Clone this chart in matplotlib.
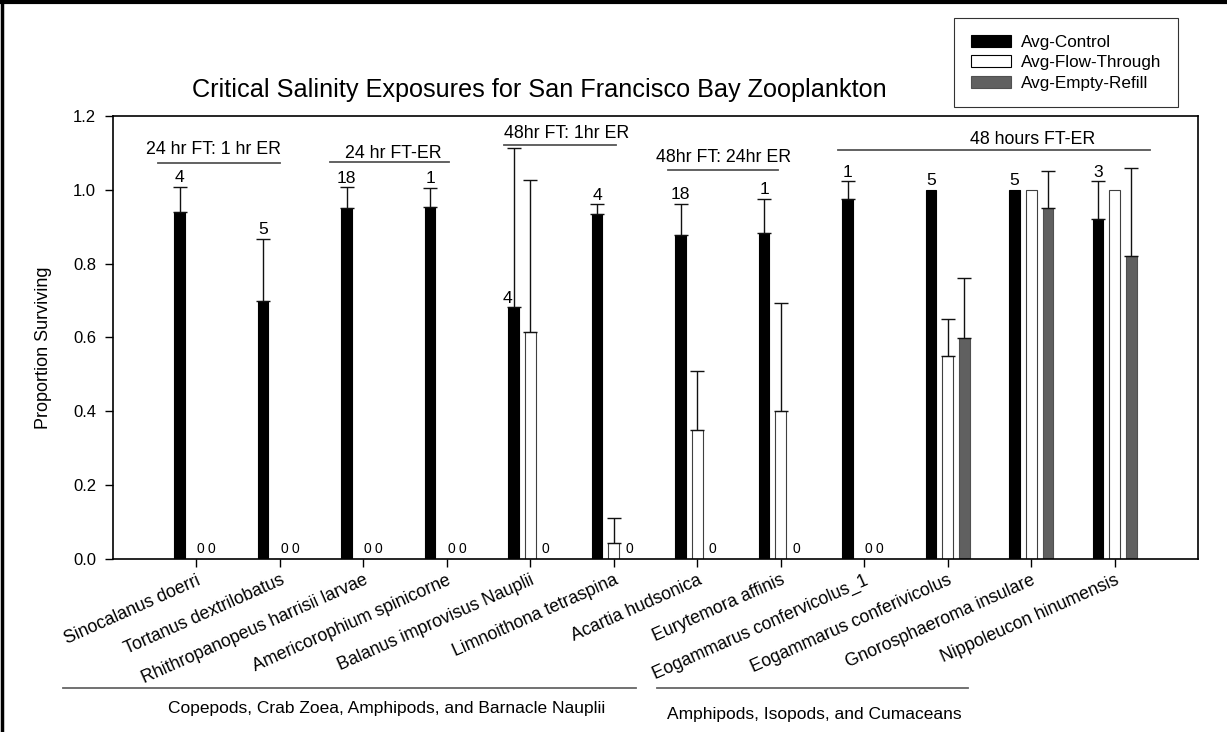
import numpy as np
import matplotlib
matplotlib.use("Agg")
import matplotlib.pyplot as plt
from matplotlib.patches import Patch
from matplotlib.lines import Line2D

plt.rcParams['font.family'] = ['Liberation Sans', 'DejaVu Sans']

species = ["Sinocalanus doerri", "Tortanus dextrilobatus", "Rhithropanopeus harrisii larvae",
           "Americorophium spinicorne", "Balanus improvisus Nauplii", "Limnoithona tetraspina",
           "Acartia hudsonica", "Eurytemora affinis", "Eogammarus confervicolus_1",
           "Eogammarus conferivicolus", "Gnorosphaeroma insulare", "Nippoleucon hinumensis"]

control = [0.94, 0.70, 0.95, 0.952, 0.682, 0.935, 0.877, 0.883, 0.974, 1.0, 1.0, 0.92]
control_err = [0.068, 0.167, 0.057, 0.053, 0.431, 0.025, 0.085, 0.092, 0.049, 0.0, 0.0, 0.103]
flow = [0.0, 0.0, 0.0, 0.0, 0.615, 0.045, 0.35, 0.40, 0.0, 0.55, 1.0, 1.0]
flow_err = [0.0, 0.0, 0.0, 0.0, 0.41, 0.068, 0.16, 0.293, 0.0, 0.10, 0.0, 0.0]
refill = [0.0, 0.0, 0.0, 0.0, 0.0, 0.0, 0.0, 0.0, 0.0, 0.60, 0.95, 0.82]
refill_err = [0.0, 0.0, 0.0, 0.0, 0.0, 0.0, 0.0, 0.0, 0.0, 0.162, 0.10, 0.238]
n_counts = ["4", "5", "18", "1", "4", "4", "18", "1", "1", "5", "5", "3"]

series_names = ["Avg-Control", "Avg-Flow-Through", "Avg-Empty-Refill"]

exposure_groups = [
    ("24 hr FT: 1 hr ER", -0.46, 1.0, 1.071, 0.206, 1.096),
    ("24 hr FT-ER", 1.60, 3.03, 1.074, 2.36, 1.085),
    ("48hr FT: 1hr ER", 3.69, 5.03, 1.121, 4.44, 1.139),
    ("48hr FT: 24hr ER", 5.65, 6.97, 1.053, 6.32, 1.075),
    ("48 hours FT-ER", 7.69, 11.42, 1.107, 10.02, 1.123),
]
taxa_groups = [
    ("Copepods, Crab Zoea, Amphipods, and Barnacle Nauplii", 63, 636, 387, 708),
    ("Amphipods, Isopods, and Cumaceans", 657, 968, 814, 714),
]

W, H = 1227, 732
fig = plt.figure(figsize=(W / 100, H / 100), dpi=100)
ax = fig.add_axes([112.7 / W, 1 - 559.3 / H, (1198.3 - 112.7) / W, (559.3 - 115.7) / H])

x = np.arange(len(species))
bw = 0.128
off = 0.2
fs = 12.6

colors = ["#000000", "#ffffff", "#606060"]
edges = ["#000000", "#404040", "#505050"]
data = [(control, control_err, -off), (flow, flow_err, 0.0), (refill, refill_err, off)]

for (vals, errs, dx), fc, ec in zip(data, colors, edges):
    vals = np.array(vals)
    errs = np.array(errs)
    ax.bar(x + dx, vals, width=bw, color=fc, edgecolor=ec, linewidth=0.8, zorder=2)
    m = errs > 0
    ax.errorbar((x + dx)[m], vals[m], yerr=[np.zeros(m.sum()), errs[m]], fmt='none',
                ecolor='#111111', elinewidth=1.0, capsize=5, capthick=1.0, zorder=3)

# sample-size labels above the control bars
for i, n in enumerate(n_counts):
    if i == 4:
        ax.annotate(n, (x[i] - off - 0.07, control[i]), xytext=(0, 1), textcoords='offset points',
                    ha='center', va='bottom', fontsize=fs)
    else:
        ax.annotate(n, (x[i] - off, control[i] + control_err[i]), xytext=(0, 1),
                    textcoords='offset points', ha='center', va='bottom', fontsize=fs)

# zero labels for empty treatments
for i in range(len(species)):
    if flow[i] == 0:
        ax.text(x[i] + 0.05, 0.008, "0", ha='center', va='bottom', fontsize=10)
    if refill[i] == 0:
        ax.text(x[i] + 0.185, 0.008, "0", ha='center', va='bottom', fontsize=10)

# exposure group headers
for label, x0, x1, yl, xt, yt in exposure_groups:
    ax.plot([x0, x1], [yl, yl], color='#555555', lw=1.3, clip_on=False, zorder=4)
    ax.text(xt, yt, label, ha='center', va='baseline', fontsize=12.8)

ax.set_xlim(-1, 12)
ax.set_ylim(0, 1.2)
ax.set_yticks(np.arange(0, 1.21, 0.2))
ax.set_yticklabels([f"{v:.1f}" for v in np.arange(0, 1.21, 0.2)], fontsize=12)
ax.set_xticks(x)
ax.set_xticklabels(species, rotation=24, ha='right', rotation_mode='anchor', fontsize=12.8)
ax.tick_params(axis='y', direction='out', length=6, width=1, pad=6)
ax.tick_params(axis='x', direction='out', length=6, width=1, pad=3)
for s in ax.spines.values():
    s.set_linewidth(1.2)

fig.text(44 / W, 1 - 348 / H, "Proportion Surviving", rotation=90, ha='center', va='center',
         fontsize=13)
fig.text(539 / W, 1 - 97 / H, "Critical Salinity Exposures for San Francisco Bay Zooplankton",
         ha='center', va='baseline', fontsize=18.2)

handles = [Patch(facecolor=c, edgecolor=e if c != "#ffffff" else "#000000", linewidth=0.8)
           for c, e in zip(colors, edges)]
leg = fig.legend(handles, series_names, loc='upper left', bbox_to_anchor=(954 / W, 1 - 18.3 / H),
                 bbox_transform=fig.transFigure, borderaxespad=0, fontsize=12.3, frameon=True,
                 fancybox=False, handlelength=2.35, handleheight=0.7, handletextpad=0.6,
                 labelspacing=0.32, borderpad=0.97)
leg.get_frame().set_edgecolor('#000000')
leg.get_frame().set_linewidth(0.8)

# taxon group brackets below the axis
for label, px0, px1, pxt, pyt in taxa_groups:
    fig.add_artist(Line2D([px0 / W, px1 / W], [1 - 688 / H, 1 - 688 / H], color='#666666', lw=1.3))
    fig.text(pxt / W, 1 - pyt / H, label, ha='center', va='center', fontsize=12.5)

# outer frame
fig.add_artist(Line2D([0, 1], [1 - 1.5 / H, 1 - 1.5 / H], color='black', lw=3))
fig.add_artist(Line2D([1.5 / W, 1.5 / W], [0, 1], color='black', lw=2.5))

fig.savefig("out.png", dpi=100)
